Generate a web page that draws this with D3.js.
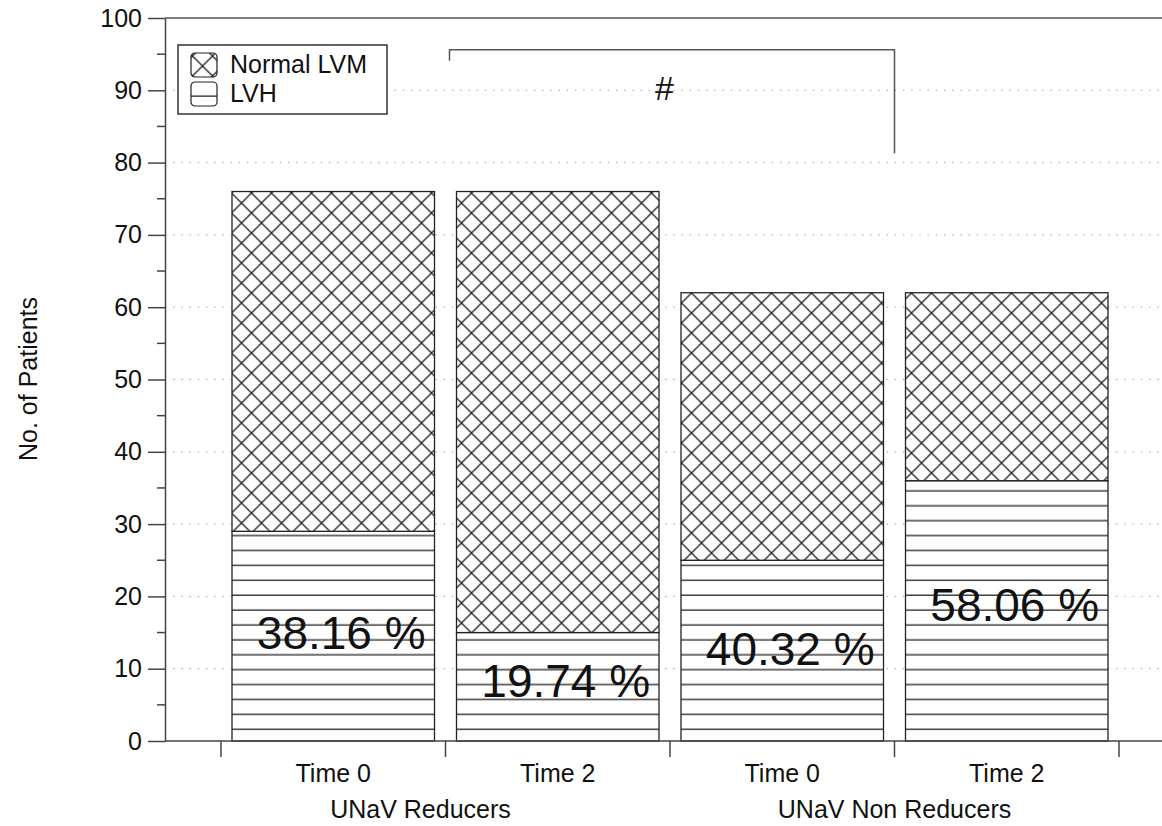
<!DOCTYPE html>
<html>
<head>
<meta charset="utf-8">
<script src="https://cdn.jsdelivr.net/npm/d3@7"></script>
<style>
  body { margin: 0; background: #fff; }
  text { font-family: "Liberation Sans", Arial, Helvetica, sans-serif; fill: #111; }
</style>
</head>
<body>
<div class="container_main"></div>
<script>
// values
const groups = ["UNaV Reducers", "UNaV Non Reducers"];
const categories = ["Time 0", "Time 2", "Time 0", "Time 2"];
const lvh = [29, 15, 25, 36];
const normalLvm = [47, 61, 37, 26];
const pctLabels = ["38.16 %", "19.74 %", "40.32 %", "58.06 %"];
const pctLabelAt = [12.7, 6.1, 10.5, 16.6];   // baseline height, in patients
const yTicks = d3.range(0, 101, 10);
const yMinor = d3.range(5, 100, 10);
const legendLabels = ["Normal LVM", "LVH"];
const sigLabel = "#";

const plotChart = function() {
    svgwidth = 1162;
    svgheight = 826;
    svg = d3.select(".container_main")
      .append("svg")
      .attr("width", svgwidth)
      .attr("height", svgheight);
    svg.append("rect").attr("width", svgwidth).attr("height", svgheight).attr("fill", "#fff");

    // hatch patterns
    defs = svg.append("defs");
    ph = defs.append("pattern")
        .attr("id", "hatchH")
        .attr("patternUnits", "userSpaceOnUse")
        .attr("width", 20).attr("height", 14.9);
    ph.append("rect").attr("width", 20).attr("height", 14.9).attr("fill", "#fff");
    ph.append("line").attr("x1", 0).attr("x2", 20).attr("y1", 14.1).attr("y2", 14.1)
        .attr("stroke", "#222").attr("stroke-width", 1.3);
    pc = defs.append("pattern")
        .attr("id", "cross")
        .attr("patternUnits", "userSpaceOnUse")
        .attr("x", 1.5).attr("y", 3)
        .attr("width", 20).attr("height", 20);
    pc.append("rect").attr("width", 20).attr("height", 20).attr("fill", "#fff");
    pc.append("path").attr("d", "M0,0L20,20M0,20L20,0M-1,1L1,-1M19,21L21,19M-1,19L1,21M19,-1L21,1")
        .attr("stroke", "#222").attr("stroke-width", 1.3).attr("fill", "none");

    // scales
    posY = d3.scaleLinear().domain([0, 100]).range([741, 18]);
    posX = d3.scaleBand()
        .domain(d3.range(categories.length))
        .range([221, 1119])
        .paddingInner(0.098)
        .paddingOuter(0.049);
    edges = d3.range(categories.length + 1).map(function(i){ return 221 + i * posX.step(); });
    axisLeftX = 165;

    // dotted grid
    svg.append("g").selectAll("line")
      .data(yTicks.filter(function(d){ return d > 0 && d < 100; }))
      .enter().append("line")
        .attr("x1", axisLeftX).attr("x2", svgwidth)
        .attr("y1", function(d){ return posY(d); })
        .attr("y2", function(d){ return posY(d); })
        .attr("stroke", "#999").attr("stroke-width", 1)
        .attr("stroke-dasharray", "1.3,6.9");

    // top frame line
    svg.append("line")
        .attr("x1", axisLeftX).attr("x2", svgwidth)
        .attr("y1", posY(100)).attr("y2", posY(100))
        .attr("stroke", "#555").attr("stroke-width", 1.6);

    // stacked bars: LVH at the bottom, Normal LVM on top
    bars = svg.append("g");
    bars.selectAll(".lvh")
      .data(lvh)
      .enter().append("rect")
        .attr("class", "lvh")
        .attr("x", function(d, i){ return posX(i); })
        .attr("width", posX.bandwidth())
        .attr("y", function(d){ return posY(d); })
        .attr("height", function(d){ return posY(0) - posY(d); })
        .attr("fill", "url(#hatchH)")
        .attr("stroke", "#222").attr("stroke-width", 1.3);
    bars.selectAll(".nlvm")
      .data(normalLvm)
      .enter().append("rect")
        .attr("class", "nlvm")
        .attr("x", function(d, i){ return posX(i); })
        .attr("width", posX.bandwidth())
        .attr("y", function(d, i){ return posY(lvh[i] + d); })
        .attr("height", function(d, i){ return posY(lvh[i]) - posY(lvh[i] + d); })
        .attr("fill", "url(#cross)")
        .attr("stroke", "#222").attr("stroke-width", 1.3);

    // percentage labels
    svg.append("g").selectAll("text")
      .data(pctLabels)
      .enter().append("text")
        .attr("x", function(d, i){ return posX(i) + posX.bandwidth() / 2 + 8; })
        .attr("y", function(d, i){ return posY(pctLabelAt[i]); })
        .attr("text-anchor", "middle")
        .attr("font-size", "46px")
        .text(function(d){ return d; });

    // y axis
    yAxis = svg.append("g")
        .attr("transform", "translate(" + axisLeftX + ",0)")
        .call(d3.axisLeft(posY).tickValues(yTicks).tickSize(17).tickSizeOuter(0).tickPadding(6));
    yAxis.append("g").selectAll("line")
      .data(yMinor)
      .enter().append("line")
        .attr("x1", -8).attr("x2", 0)
        .attr("y1", function(d){ return posY(d); })
        .attr("y2", function(d){ return posY(d); });
    yAxis.selectAll("line, path").attr("stroke", "#444").attr("stroke-width", 1.5);
    yAxis.selectAll("text").attr("font-size", "25px").attr("fill", "#111")
        .attr("font-family", "Liberation Sans, Arial, sans-serif");

    // x axis
    xAxis = svg.append("g");
    xAxis.append("line")
        .attr("x1", axisLeftX).attr("x2", svgwidth)
        .attr("y1", posY(0)).attr("y2", posY(0))
        .attr("stroke", "#444").attr("stroke-width", 1.5);
    xAxis.selectAll(".tick")
      .data(edges)
      .enter().append("line")
        .attr("class", "tick")
        .attr("x1", function(d){ return d; }).attr("x2", function(d){ return d; })
        .attr("y1", posY(0)).attr("y2", posY(0) + 16)
        .attr("stroke", "#444").attr("stroke-width", 1.5);
    xAxis.selectAll(".cat")
      .data(categories)
      .enter().append("text")
        .attr("class", "cat")
        .attr("x", function(d, i){ return posX(i) + posX.bandwidth() / 2; })
        .attr("y", 782)
        .attr("text-anchor", "middle")
        .attr("font-size", "25px")
        .text(function(d){ return d; });
    groupShift = [-25, 0];
    xAxis.selectAll(".grp")
      .data(groups)
      .enter().append("text")
        .attr("class", "grp")
        .attr("x", function(d, i){ return edges[2 * i + 1] + groupShift[i]; })
        .attr("y", 818)
        .attr("text-anchor", "middle")
        .attr("font-size", "25px")
        .text(function(d){ return d; });

    // y title
    svg.append("text")
        .attr("transform", "translate(37,379) rotate(-90)")
        .attr("text-anchor", "middle")
        .attr("font-size", "25px")
        .text("No. of Patients");

    // significance bracket between the two groups
    bx1 = edges[1] + 4;
    bx2 = edges[3];
    svg.append("path")
        .attr("d", "M" + bx1 + "," + posY(94.1) + "V" + posY(95.6) + "H" + bx2 + "V" + posY(81.3))
        .attr("fill", "none").attr("stroke", "#555").attr("stroke-width", 1.5);
    svg.append("text")
        .attr("x", 664)
        .attr("y", 100)
        .attr("text-anchor", "middle")
        .attr("font-size", "34px")
        .attr("font-style", "italic")
        .text(sigLabel);

    // legend
    legend = svg.append("g").attr("transform", "translate(178,45)");
    legend.append("rect")
        .attr("width", 209).attr("height", 69)
        .attr("fill", "#fff").attr("stroke", "#333").attr("stroke-width", 1.5);
    legendFills = ["url(#cross)", "url(#hatchH)"];
    items = legend.selectAll(".item")
      .data(legendLabels)
      .enter().append("g")
        .attr("class", "item")
        .attr("transform", function(d, i){ return "translate(13," + (8 + i * 29) + ")"; });
    items.append("rect")
        .attr("width", 26).attr("height", 24).attr("rx", 4)
        .attr("fill", function(d, i){ return legendFills[i]; })
        .attr("stroke", "#222").attr("stroke-width", 1.2);
    items.append("text")
        .attr("x", 39).attr("y", 20)
        .attr("font-size", "25px")
        .text(function(d){ return d; });
}

plotChart()
</script>
</body>
</html>
